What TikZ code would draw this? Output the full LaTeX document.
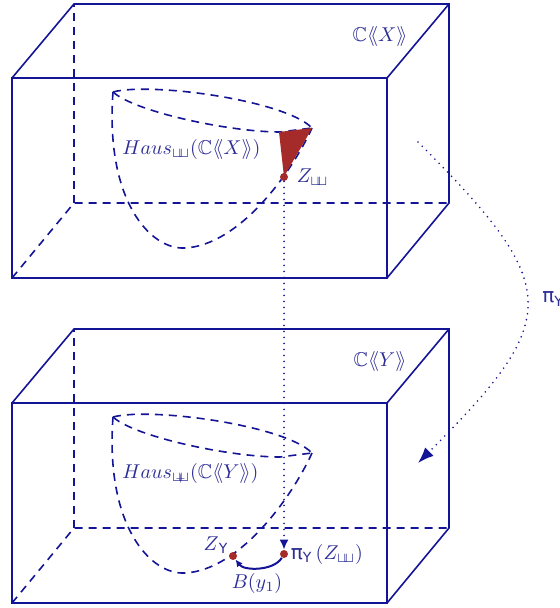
\documentclass[tikz,border=0pt]{standalone}
\usepackage{amsmath}
\usepackage{amssymb}
\usepackage{fontspec}
\newfontfamily\grsans{DejaVu Sans}
\usepackage{tikz}
\usetikzlibrary{positioning}
\usetikzlibrary{arrows.meta}

\definecolor{boxblue}{RGB}{20,20,150}
\definecolor{txtblue}{RGB}{45,45,150}
\definecolor{brickred}{RGB}{165,42,42}

\newcommand{\shuf}{\mathbin{\sqcup\mkern-5mu\sqcup}}
\newcommand{\stuf}{{\ooalign{$\scriptstyle\sqcup\mkern-5mu\sqcup$\cr\hidewidth$\scriptscriptstyle+$\hidewidth\cr}}}
\newcommand{\dangle}[1]{\langle\mkern-4mu\langle #1\rangle\mkern-4mu\rangle}

\tikzset{
	edge/.style={boxblue, line width=0.8pt},
	hidden/.style={edge, dash pattern=on 4pt off 3pt},
	dotline/.style={boxblue, line width=0.9pt, dash pattern=on 0pt off 3pt, line cap=round},
	pt/.style={circle, fill=brickred, inner sep=0pt, minimum size=4pt},
	lbl/.style={text=txtblue, inner sep=0pt},
}

\begin{document}
\begin{tikzpicture}[x=0.5pt, y=-0.5pt]
				\useasboundingbox (0,0) rectangle (559,608);
				
				\foreach \oy in {0,325}{
					\begin{scope}[shift={(0,\oy)}]
						\draw[hidden] (12,278) -- (74,203) -- (449,203);
						\draw[hidden] (74,203) -- (74,4);
						\draw[edge] (12,78) rectangle (387,278);
						\draw[edge] (12,78) -- (74,4) -- (449,4) -- (449,203) -- (387,278);
						\draw[edge] (387,78) -- (449,4);
						\draw[hidden] (113,92) .. controls (150,82) and (285,100) .. (312,128);
						\draw[hidden] (113,92) .. controls (135,112) and (230,132) .. (280,132) -- (312,128);
						\draw[hidden] (113,92) .. controls (105,200) and (150,250) .. (185,248) .. controls (240,245) and (292,172) .. (312,128);
					\end{scope}
				}
				
				\fill[brickred] (279,132) -- (312,128) .. controls (300,150) and (292,162) .. (284,177) -- cycle;
				
				\node[lbl] (cx) at (380,37) {$\mathbb{C}\dangle{X}$};
				\node[lbl] (cy) at (380,361) {$\mathbb{C}\dangle{Y}$};
				\node[lbl, anchor=west] (hx) at (122,150) {$Haus_{\shuf}(\mathbb{C}\dangle{X})$};
				\node[lbl, anchor=west] (hy) at (122,473) {$Haus_{\stuf}(\mathbb{C}\dangle{Y})$};
				
				\node[pt] (zsh) at (284,177) {};
				\node[pt] (piz) at (284,554) {};
				\node[pt] (zy) at (233,556) {};
				\node[lbl, right=4pt of zsh] (zshlbl) {$Z_{\shuf}$};
				\node[lbl, right=1pt of piz] (pizlbl) {{\grsans π\textsubscript{Y}}\,$(Z_{\shuf})$};
				\node[lbl] (zylbl) at (216,545) {$Z$\textsubscript{\grsans Y}};
				\node[lbl] (blbl) at (257,583) {$B(y_1)$};
				
				\coordinate (pxa) at (418,142);
				\coordinate (pxb) at (418,463);
				\node[lbl, anchor=west] (pilbl) at (542,299) {\grsans π\textsubscript{Y}};
				
				\draw[dotline, -{Latex[length=5pt,width=4.5pt]}] (zsh) -- (piz);
				\draw[dotline, -{Latex[length=8pt,width=6pt]}] (pxa) .. controls (563,287) and (563,318) .. (pxb);
				\draw[edge, line width=1pt, -{Latex[length=3.5pt,width=3.5pt]}] (piz) .. controls (274,571) and (244,571) .. (zy);
			\end{tikzpicture}
\end{document}
